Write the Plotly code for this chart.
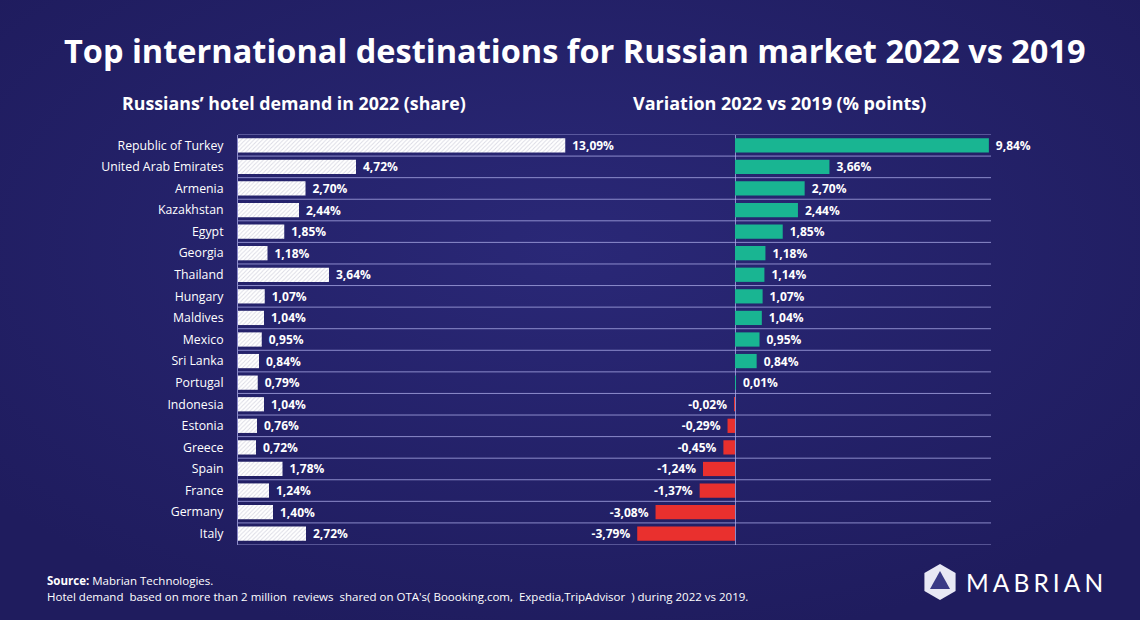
import math
import plotly.graph_objects as go

W, H = 1140, 620

countries = ["Republic of Turkey", "United Arab Emirates", "Armenia", "Kazakhstan", "Egypt",
             "Georgia", "Thailand", "Hungary", "Maldives", "Mexico", "Sri Lanka", "Portugal",
             "Indonesia", "Estonia", "Greece", "Spain", "France", "Germany", "Italy"]
share_2022 = [13.09, 4.72, 2.70, 2.44, 1.85, 1.18, 3.64, 1.07, 1.04, 0.95, 0.84, 0.79,
              1.04, 0.76, 0.72, 1.78, 1.24, 1.40, 2.72]
variation = [9.84, 3.66, 2.70, 2.44, 1.85, 1.18, 1.14, 1.07, 1.04, 0.95, 0.84, 0.01,
             -0.02, -0.29, -0.45, -1.24, -1.37, -3.08, -3.79]

BG = "#232169"
GRID = "rgba(175,175,235,0.75)"
TEAL = "#19b592"
RED = "#e9302e"
FONT = "Open Sans"
SP = "\u2004"


def px(x):
    return x / W


def py(y):
    return 1 - y / H


def fmt(v):
    return f"{v:.2f}".replace(".", ",") + "%"


ypos = list(range(len(countries)))

fig = go.Figure()

fig.add_trace(go.Bar(
    x=share_2022, y=ypos, orientation="h", xaxis="x", yaxis="y",
    width=0.66,
    marker=dict(color="white", line=dict(width=0),
                pattern=dict(shape="/", fgcolor="#b4b4c8", bgcolor="white", size=3, solidity=0.3)),
    text=[SP + fmt(v) for v in share_2022], textposition="outside", cliponaxis=False,
    constraintext="none",
    textfont=dict(family=FONT, size=12, color="white", weight="bold"),
    showlegend=False, hoverinfo="skip",
))

fig.add_trace(go.Bar(
    x=variation, y=ypos, orientation="h", xaxis="x2", yaxis="y",
    width=0.66,
    marker=dict(color=[TEAL if v >= 0 else RED for v in variation], line=dict(width=0)),
    text=[(SP + fmt(v)) if v >= 0 else (fmt(v) + SP) for v in variation],
    textposition="outside", cliponaxis=False, constraintext="none",
    textfont=dict(family=FONT, size=12, color="white", weight="bold"),
    showlegend=False, hoverinfo="skip",
))

shapes = []
for i in range(len(countries) + 1):
    shapes.append(dict(type="line", xref="paper", yref="y", x0=px(238), x1=px(991),
                       y0=i - 0.5, y1=i - 0.5, line=dict(color=GRID, width=1), layer="below"))

# logo (hexagon + inner triangle)
cx, cy, r = 940, 582, 18
hex_pts = [(cx + r * math.cos(math.radians(a)), cy + r * math.sin(math.radians(a)))
           for a in [-90, -30, 30, 90, 150, 210]]
path = "M " + " L ".join(f"{px(x):.5f},{py(y):.5f}" for x, y in hex_pts) + " Z"
shapes.append(dict(type="path", xref="paper", yref="paper", path=path,
                   fillcolor="#e8e8f4", line=dict(width=0)))
tri = [(cx, cy - 11), (cx + 10, cy + 7), (cx - 10, cy + 7)]
path2 = "M " + " L ".join(f"{px(x):.5f},{py(y):.5f}" for x, y in tri) + " Z"
shapes.append(dict(type="path", xref="paper", yref="paper", path=path2,
                   fillcolor="#3a3a86", line=dict(width=0)))

# subtle radial background gradient
svg = ("<svg xmlns='http://www.w3.org/2000/svg' width='1140' height='620'>"
       "<defs><radialGradient id='g' cx='50%' cy='40%' r='65%'>"
       "<stop offset='0%' stop-color='%232a2877'/><stop offset='100%' stop-color='%231f1c5e'/>"
       "</radialGradient></defs><rect width='1140' height='620' fill='url(%23g)'/></svg>")
bg_img = dict(source="data:image/svg+xml;utf8," + svg, xref="paper", yref="paper",
              x=0, y=1, sizex=1, sizey=1, sizing="stretch", layer="below",
              xanchor="left", yanchor="top")

annotations = [
    dict(text="<b>Top international destinations for Russian market 2022 vs 2019</b>",
         x=px(575), y=py(50), xref="paper", yref="paper", showarrow=False,
         xanchor="center", yanchor="middle", font=dict(family=FONT, size=32.5, color="white")),
    dict(text="<b>Russians’ hotel demand in 2022 (share)</b>",
         x=px(294), y=py(103), xref="paper", yref="paper", showarrow=False,
         xanchor="center", yanchor="middle", font=dict(family=FONT, size=17.8, color="white")),
    dict(text="<b>Variation 2022 vs 2019 (% points)</b>",
         x=px(779), y=py(103), xref="paper", yref="paper", showarrow=False,
         xanchor="center", yanchor="middle", font=dict(family=FONT, size=18, color="white")),
    dict(text="<b>Source:</b> Mabrian Technologies.",
         x=px(45), y=py(580), xref="paper", yref="paper", showarrow=False,
         xanchor="left", yanchor="middle", font=dict(family=FONT, size=11.5, color="white")),
    dict(text="Hotel demand  based on more than 2 million  reviews  shared on OTA's( Boooking.com,  Expedia,TripAdvisor  ) during 2022 vs 2019.".replace("  ", "\u00a0 "),
         x=px(45), y=py(596), xref="paper", yref="paper", showarrow=False,
         xanchor="left", yanchor="middle", font=dict(family=FONT, size=11.5, color="white")),
    dict(text="M\u2006A\u2006B\u2006R\u2006I\u2006A\u2006N",
         x=px(964), y=py(582), xref="paper", yref="paper", showarrow=False,
         xanchor="left", yanchor="middle", font=dict(family="Lato", size=24.5, color="white")),
]

fig.update_layout(
    width=W, height=H,
    margin=dict(l=0, r=0, t=0, b=0),
    paper_bgcolor=BG, plot_bgcolor="rgba(0,0,0,0)",
    xaxis=dict(domain=[px(238), px(735)], range=[0, 497 / 25.0], showgrid=False,
               showticklabels=False, zeroline=False, showline=False, fixedrange=True),
    xaxis2=dict(domain=[px(600), px(1000)], range=[-135 / 25.8, 265 / 25.8], anchor="y",
                showgrid=False, showticklabels=False, zeroline=True, zerolinecolor=GRID,
                zerolinewidth=1, showline=False),
    yaxis=dict(domain=[py(544.5), py(134.5)], range=[len(countries) - 0.5, -0.5],
               tickmode="array", tickvals=ypos, ticktext=countries, anchor="x",
               showgrid=False, zeroline=False, showline=True, linecolor=GRID, linewidth=1,
               ticks="", ticklabelstandoff=11,
               tickfont=dict(family=FONT, size=12.3, color="white")),
    shapes=shapes,
    annotations=annotations,
    images=[bg_img],
)

fig.write_html("out.html")
